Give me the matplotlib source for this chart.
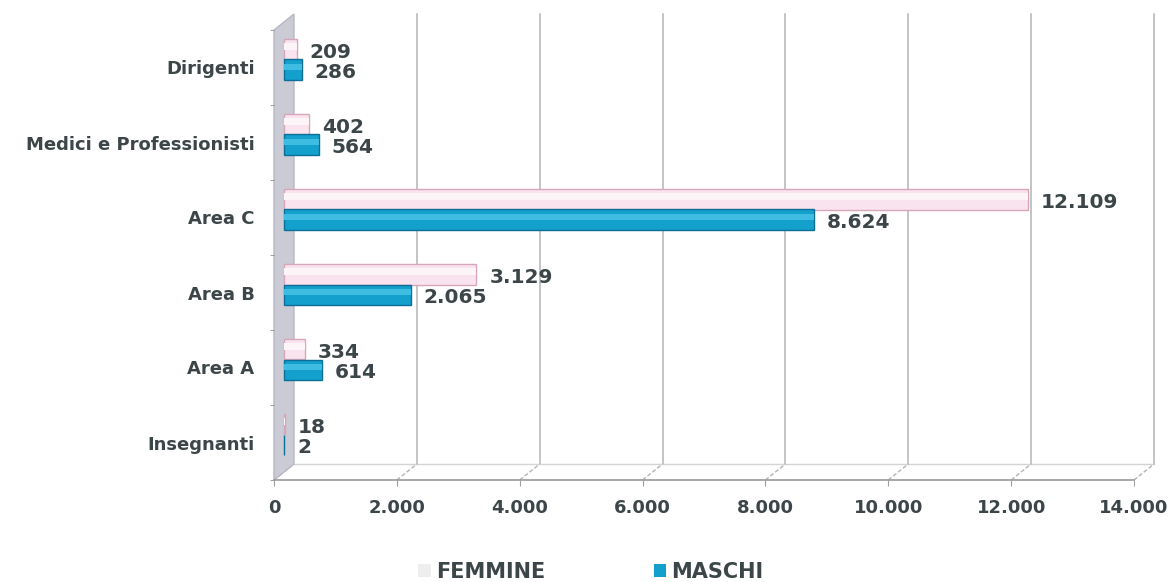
import matplotlib
matplotlib.use("Agg")
import matplotlib.pyplot as plt
from matplotlib.transforms import ScaledTranslation, IdentityTransform
from matplotlib.patches import Polygon, Patch
from matplotlib.lines import Line2D

# ---- data ----
categories = ["Dirigenti", "Medici e Professionisti", "Area C", "Area B", "Area A", "Insegnanti"]
femmine = [209, 402, 12109, 3129, 334, 18]
maschi = [286, 564, 8624, 2065, 614, 2]
xticks = [0, 2000, 4000, 6000, 8000, 10000, 12000, 14000]
xtick_labels = ["0", "2.000", "4.000", "6.000", "8.000", "10.000", "12.000", "14.000"]
series_names = ["FEMMINE", "MASCHI"]


def fmt(v):
    return f"{v:,}".replace(",", ".")


TXT = "#3c4648"
FONT = "DejaVu Sans"
W, H = 1170, 582
fig = plt.figure(figsize=(W / 100, H / 100), dpi=100)
fig.patch.set_facecolor("white")

X0, X1, YB, YT = 274, 1134, 480, 30
ax = fig.add_axes([X0 / W, 1 - YB / H, (X1 - X0) / W, (YB - YT) / H])
n = len(categories)
ax.patch.set_alpha(0)

DXI, DYI = 0.20, 0.16  # depth offset (inches)
back = ax.transData + ScaledTranslation(DXI, DYI, fig.dpi_scale_trans)
mid = ax.transData + ScaledTranslation(DXI / 2, DYI / 2, fig.dpi_scale_trans)

ax.set_xlim(0, 14000)
ax.set_ylim(0, n)

ident = IdentityTransform()
dxp, dyp = DXI * 100, DYI * 100

# left wall
p0 = ax.transData.transform((0, 0))
p1 = ax.transData.transform((0, n))
wall = Polygon([(p0[0], p0[1]), (p1[0], p1[1]), (p1[0] + dxp, p1[1] + dyp), (p0[0] + dxp, p0[1] + dyp)],
               closed=True, transform=ident, facecolor="#cbcbd5", edgecolor="#b8b8c4", lw=1,
               zorder=1, clip_on=False)
ax.add_patch(wall)

# back wall grid lines and floor lines
for t in xticks[1:]:
    ax.plot([t, t], [0, n], transform=back, color="#b4b4b4", lw=1.1, clip_on=False, zorder=0.5)
for t in xticks:
    q = ax.transData.transform((t, 0))
    ax.add_line(Line2D([q[0], q[0] + dxp], [q[1], q[1] + dyp], transform=ident,
                       color="#b4b4b4", lw=1.0, ls=(0, (3, 1.5)), zorder=0.6, clip_on=False))
ax.plot([0, 14000], [0, 0], transform=back, color="#d4d4d4", lw=1.0, clip_on=False, zorder=0.5)

# bars
ypos = [n - 0.5 - i for i in range(n)]
h = 0.27
yf = [y + h / 2 for y in ypos]
ym = [y - h / 2 for y in ypos]
ax.barh(yf, femmine, height=h, color="#f9e3ee", edgecolor="#d7a6bb", lw=1.0, transform=mid, zorder=3)
ax.barh([y + h * 0.12 for y in yf], femmine, height=h * 0.35, color="#fdf4f8", lw=0, transform=mid, zorder=3.1)
ax.barh(ym, maschi, height=h, color="#14a0cc", edgecolor="#0d6f98", lw=1.0, transform=mid, zorder=3)
ax.barh([y + h * 0.12 for y in ym], maschi, height=h * 0.3, color="#3fbce2", lw=0, transform=mid, zorder=3.1)

# value labels
lab_tr = ax.transData + ScaledTranslation(DXI / 2 + 0.13, DYI / 2 - 0.03, fig.dpi_scale_trans)
for y, v in zip(yf, femmine):
    ax.text(v, y, fmt(v), transform=lab_tr, ha="left", va="center", fontsize=14.5,
            fontweight="bold", color=TXT, family=FONT, zorder=5)
for y, v in zip(ym, maschi):
    ax.text(v, y, fmt(v), transform=lab_tr, ha="left", va="center", fontsize=14.5,
            fontweight="bold", color=TXT, family=FONT, zorder=5)

# axes styling
for s in ["top", "right", "left"]:
    ax.spines[s].set_visible(False)
ax.spines["bottom"].set_color("#9a9a9a")
ax.spines["bottom"].set_linewidth(1.2)
ax.set_xticks(xticks)
ax.set_xticklabels(xtick_labels, fontsize=13, fontweight="bold", color=TXT, family=FONT)
ax.tick_params(axis="x", length=4, color="#a0a0a0", pad=10)
ax.set_yticks(ypos)
ax.set_yticklabels(categories, fontsize=13, fontweight="bold", color=TXT, family=FONT)
ax.set_yticks(list(range(n + 1)), minor=True)
ax.tick_params(axis="y", which="major", length=0, pad=14)
ax.tick_params(axis="y", which="minor", length=3, color="#909090")

# legend
handles = [Patch(facecolor="#eeeeee", edgecolor="none", label=series_names[0]),
           Patch(facecolor="#14a0cc", edgecolor="none", label=series_names[1])]
leg = fig.legend(handles=handles, loc="center", bbox_to_anchor=(591 / W, 10 / H), ncol=2,
                 frameon=False, handlelength=0.6, handleheight=0.6, handletextpad=0.25,
                 columnspacing=5.2, borderpad=0,
                 prop={"family": FONT, "weight": "bold", "size": 15})
for t in leg.get_texts():
    t.set_color(TXT)

fig.savefig("out.png", dpi=100, facecolor="white")
